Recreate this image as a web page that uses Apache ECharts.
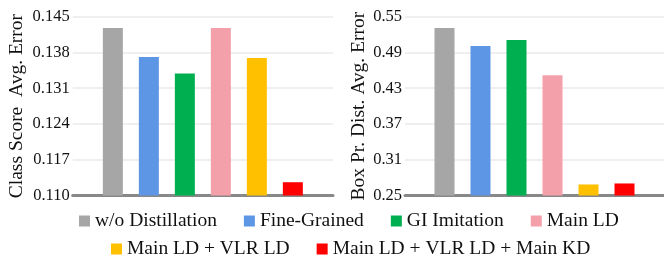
<!DOCTYPE html>
<html>
<head>
<meta charset="utf-8">
<script src="https://cdn.jsdelivr.net/npm/echarts@6/dist/echarts.min.js"></script>
<style>html,body{margin:0;padding:0;background:#fff}#c{width:664px;height:257px}</style>
</head>
<body>
<div id="c"></div>
<script>
var methods = ['w/o Distillation', 'Fine-Grained', 'GI Imitation', 'Main LD', 'Main LD + VLR LD', 'Main LD + VLR LD + Main KD'];
var colors = ['#a6a6a6', '#5e96e6', '#00b050', '#f4a0aa', '#ffc000', '#ff0000'];
var classScoreErr = [0.1428, 0.1371, 0.1339, 0.1428, 0.1369, 0.1126];
var boxDistErr = [0.531, 0.5007, 0.5108, 0.4519, 0.2685, 0.2702];
var leftTicks = {min: 0.110, max: 0.145, interval: 0.007};
var rightTicks = {min: 0.25, max: 0.55, interval: 0.06};
var leftTitle = 'Class Score  Avg. Error';
var rightTitle = 'Box Pr. Dist. Avg. Error';

var font = '"Liberation Serif", "Times New Roman", serif';
var chart = echarts.init(document.getElementById('c'), null, {renderer: 'canvas'});

function yAxis(idx, t, title, digits, gap) {
  return {
    type: 'value', gridIndex: idx, min: t.min, max: t.max, interval: t.interval,
    name: title, nameLocation: 'middle', nameGap: gap, nameRotate: 90,
    nameTextStyle: {fontFamily: font, fontSize: 19.5, color: '#111'},
    axisLine: {show: false}, axisTick: {show: false},
    axisLabel: {fontFamily: font, fontSize: 16.5, color: '#111', margin: 3,
      formatter: function (v) { return v.toFixed(digits); }},
    splitLine: {show: true, lineStyle: {color: '#efefef', width: 2}}
  };
}
function xAxis(idx) {
  return {
    type: 'category', gridIndex: idx, data: [''],
    axisLine: {show: true, lineStyle: {color: '#888', width: 3}},
    axisTick: {show: false}, axisLabel: {show: false}, splitLine: {show: false}
  };
}
var series = [];
methods.forEach(function (m, i) {
  series.push({name: m, type: 'bar', xAxisIndex: 0, yAxisIndex: 0, data: [classScoreErr[i]],
    barWidth: 20, barGap: '80%', itemStyle: {color: colors[i]}});
});
methods.forEach(function (m, i) {
  series.push({name: m, type: 'bar', xAxisIndex: 1, yAxisIndex: 1, data: [boxDistErr[i]],
    barWidth: 20, barGap: '80%', itemStyle: {color: colors[i]}});
});
function legend(names, left, top) {
  return {
    data: names, left: left, top: top, orient: 'horizontal',
    icon: 'rect', itemWidth: 11, itemHeight: 11, itemGap: 27, padding: 0,
    textStyle: {fontFamily: font, fontSize: 19.5, color: '#111', lineHeight: 20, padding: [0, 0, 0, 0]},
    selectedMode: false
  };
}
chart.setOption({
  animation: false,
  color: colors,
  grid: [
    {left: 72.7, right: 331, top: 16.7, bottom: 61.5},
    {left: 405, right: 0, top: 16.7, bottom: 61.5}
  ],
  xAxis: [xAxis(0), xAxis(1)],
  yAxis: [yAxis(0, leftTicks, leftTitle, 3, 46), yAxis(1, rightTicks, rightTitle, 2, 35)],
  legend: [
    legend(methods.slice(0, 4), 79, 211),
    legend(methods.slice(4), 111, 239)
  ],
  series: series
});
</script>
</body>
</html>
